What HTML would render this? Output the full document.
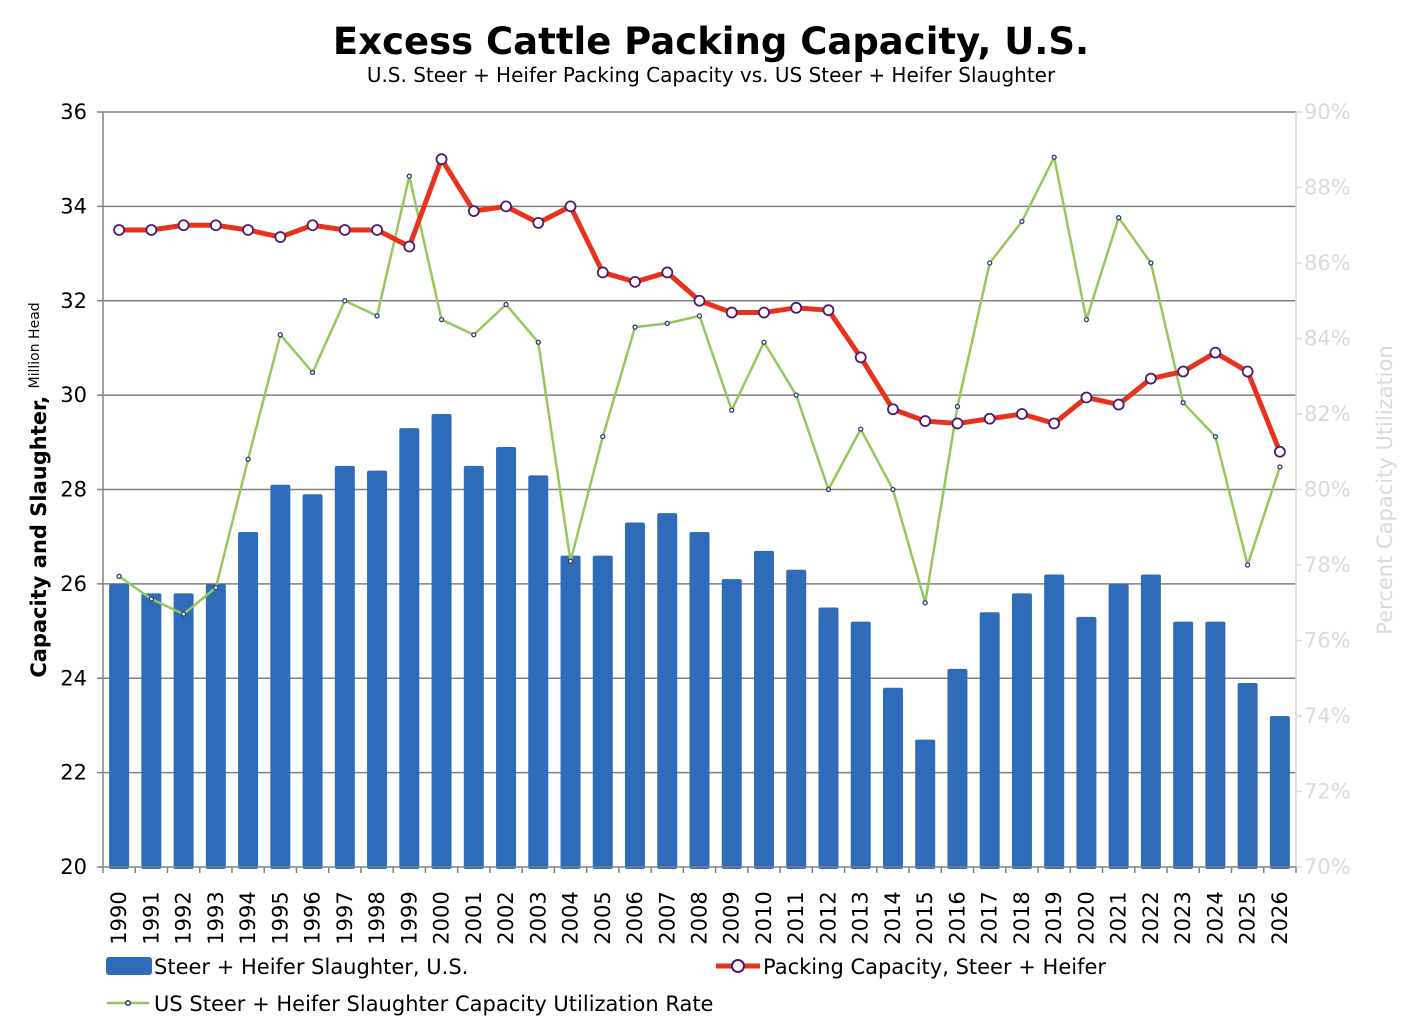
<!DOCTYPE html>
<html><head><meta charset="utf-8">
<style>
html,body{margin:0;padding:0;background:#fff;}
svg{display:block;font-family:"DejaVu Sans","Liberation Sans",sans-serif;}
</style></head>
<body>
<svg id="chart" width="1422" height="1032" viewBox="0 0 1422 1032" xmlns="http://www.w3.org/2000/svg">
<text x="711" y="54" text-anchor="middle" font-size="37" font-weight="bold" fill="#000">Excess Cattle Packing Capacity, U.S.</text>
<text x="711" y="82" text-anchor="middle" font-size="20" fill="#000">U.S. Steer + Heifer Packing Capacity vs. US Steer + Heifer Slaughter</text>
<g id="grid"></g>
<g id="bars"></g>
<g id="lines"></g>
<g id="axes"></g>
<text transform="translate(46,490) rotate(-90)" text-anchor="middle" font-size="21" font-weight="bold">Capacity and Slaughter, <tspan font-size="14" font-weight="normal" dy="-7">Million Head</tspan></text>
<text transform="translate(1392,490) rotate(-90)" text-anchor="middle" font-size="21" fill="#d9d9d9">Percent Capacity Utilization</text>
<g>
 <rect x="106" y="957" width="46" height="18" rx="3" fill="#2e6bb8"/>
 <text x="154" y="974" font-size="21">Steer + Heifer Slaughter, U.S.</text>
 <line x1="716" y1="966" x2="760" y2="966" stroke="#e8321e" stroke-width="5"/>
 <circle cx="738" cy="966" r="6" fill="#fff" stroke="#4b1c6e" stroke-width="2"/>
 <text x="763" y="974" font-size="21">Packing Capacity, Steer + Heifer</text>
 <line x1="107" y1="1003" x2="149" y2="1003" stroke="#92c95a" stroke-width="2.5"/>
 <circle cx="128" cy="1003" r="2.3" fill="#fff" stroke="#2e3a78" stroke-width="1.5"/>
 <text x="154" y="1011" font-size="21">US Steer + Heifer Slaughter Capacity Utilization Rate</text>
</g>
</svg>
<script>
const years = [1990,1991,1992,1993,1994,1995,1996,1997,1998,1999,2000,2001,2002,2003,2004,2005,2006,2007,2008,2009,2010,2011,2012,2013,2014,2015,2016,2017,2018,2019,2020,2021,2022,2023,2024,2025,2026];
const slaughter = [26.0,25.8,25.8,26.0,27.1,28.1,27.9,28.5,28.4,29.3,29.6,28.5,28.9,28.3,26.6,26.6,27.3,27.5,27.1,26.1,26.7,26.3,25.5,25.2,23.8,22.7,24.2,25.4,25.8,26.2,25.3,26.0,26.2,25.2,25.2,23.9,23.2];
const capacity = [33.5,33.5,33.6,33.6,33.5,33.35,33.6,33.5,33.5,33.15,35.0,33.9,34.0,33.65,34.0,32.6,32.4,32.6,32.0,31.75,31.75,31.85,31.8,30.8,29.7,29.45,29.4,29.5,29.6,29.4,29.95,29.8,30.35,30.5,30.9,30.5,28.8];
const utilization = [77.7,77.1,76.7,77.4,80.8,84.1,83.1,85.0,84.6,88.3,84.5,84.1,84.9,83.9,78.1,81.4,84.3,84.4,84.6,82.1,83.9,82.5,80.0,81.6,80.0,77.0,82.2,86.0,87.1,88.8,84.5,87.2,86.0,82.3,81.4,78.0,80.6];
const leftTicks = [20,22,24,26,28,30,32,34,36];
const rightTicks = [70,72,74,76,78,80,82,84,86,88,90];

const NS="http://www.w3.org/2000/svg";
const X0=103,X1=1296,Y0=867,Y1=112;
const band=(X1-X0)/years.length;
const xc=i=>X0+band*(i+0.5);
const yL=v=>Y0-(v-20)/(36-20)*(Y0-Y1);
const yR=v=>Y0-(v-70)/(90-70)*(Y0-Y1);
function mk(tag,attrs,parent){const e=document.createElementNS(NS,tag);for(const k in attrs)e.setAttribute(k,attrs[k]);parent.appendChild(e);return e;}
const grid=document.getElementById('grid'),bars=document.getElementById('bars'),lines=document.getElementById('lines'),axes=document.getElementById('axes');

leftTicks.forEach(t=>{
  const y=yL(t);
  if(t>20){const g=mk('line',{x1:X0,x2:X1,y1:y,y2:y,stroke:'#808080','stroke-width':1.5},grid);
  
  }
  mk('line',{x1:X0-6,x2:X0,y1:y,y2:y,stroke:'#808080','stroke-width':1.5},axes);
  const tx=mk('text',{x:X0-16,y:y+7,'text-anchor':'end','font-size':21},axes);
  tx.textContent=t;
  
  
});
rightTicks.forEach(t=>{
  const y=yR(t);
  mk('line',{x1:X1,x2:X1+6,y1:y,y2:y,stroke:'#d9d9d9','stroke-width':1.5},axes);
  const tx=mk('text',{x:X1+8,y:y+7,'font-size':21,fill:'#d9d9d9'},axes);
  tx.textContent=t+'%';
  
  
});
mk('line',{x1:X0,x2:X0,y1:Y1,y2:Y0,stroke:'#808080','stroke-width':1.5},axes);
mk('line',{x1:X1,x2:X1,y1:Y1,y2:Y0,stroke:'#d9d9d9','stroke-width':1.5},axes);
mk('line',{x1:X0,x2:X1,y1:Y0,y2:Y0,stroke:'#808080','stroke-width':1.5},axes);
for(let i=0;i<=years.length;i++){const x=X0+band*i;mk('line',{x1:x,x2:x,y1:Y0,y2:Y0+6,stroke:'#808080','stroke-width':1.5},axes);}
years.forEach((yr,i)=>{
  const tx=mk('text',{transform:`translate(${xc(i)+7},${Y0+51}) rotate(-90)`,'text-anchor':'middle','font-size':21},axes);
  tx.textContent=yr;
  
  
});

const bw=20;
slaughter.forEach((v,i)=>{
  const y=yL(v);
  const r=mk('rect',{x:xc(i)-bw/2,y:y,width:bw,height:Y0-y+2,rx:2,fill:'#2e6bb8'},bars);
  
  
});

const gl=mk('polyline',{points:utilization.map((v,i)=>xc(i)+','+yR(v)).join(' '),fill:'none',stroke:'#92c95a','stroke-width':2.5,'stroke-linejoin':'round'},lines);


utilization.forEach((v,i)=>{
  const c=mk('circle',{cx:xc(i),cy:yR(v),r:2,fill:'#fff',stroke:'#2e3a78','stroke-width':1.3},lines);
  
  
});
const rl=mk('polyline',{points:capacity.map((v,i)=>xc(i)+','+yL(v)).join(' '),fill:'none',stroke:'#e8321e','stroke-width':5,'stroke-linejoin':'round'},lines);


capacity.forEach((v,i)=>{
  const c=mk('circle',{cx:xc(i),cy:yL(v),r:5,fill:'#fff',stroke:'#4b1c6e','stroke-width':1.8},lines);
  
  
});
</script>
</body></html>
